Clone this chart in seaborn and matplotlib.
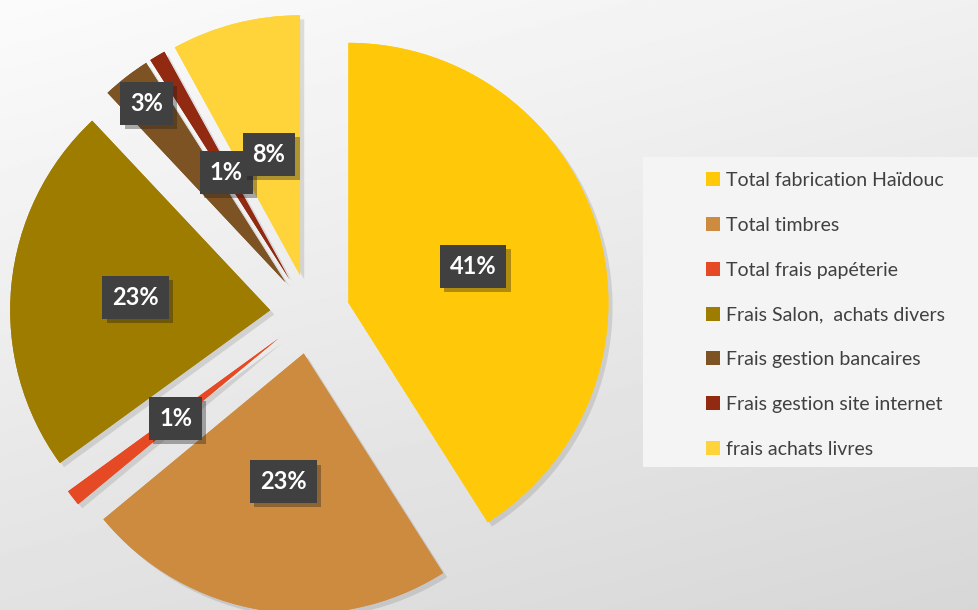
import matplotlib
matplotlib.use('Agg')
import matplotlib.pyplot as plt
import matplotlib.patheffects as pe
from matplotlib.patches import Patch, Rectangle
import numpy as np
import seaborn as sns

categories = ['Total fabrication Haïdouc', 'Total timbres', 'Total frais papéterie',
              'Frais Salon,  achats divers', 'Frais gestion bancaires',
              'Frais gestion site internet', 'frais achats livres']
shares = [41, 23, 1, 23, 3, 1, 8]
colors = ['#FFC90A', '#CD8B40', '#E64A24', '#9E7C00', '#7E5323', '#922911', '#FFD43A']
label_dist = [0.5, 0.5, 0.5, 0.52, 0.87, 0.48, 0.48]

sns.set_theme(style='white')
plt.rcParams['font.family'] = ['Lato', 'DejaVu Sans']

W, H = 979, 610
fig = plt.figure(figsize=(W / 100, H / 100), dpi=100)

# background gradient, white top-left to grey bottom-right
bg = fig.add_axes([0, 0, 1, 1], zorder=0)
xx, yy = np.meshgrid(np.linspace(0, 1, 300), np.linspace(0, 1, 300))
grad = 251 - 36 * (0.3 * xx + 0.7 * yy)
bg.imshow(grad, cmap='gray', vmin=0, vmax=255, extent=[0, 1, 0, 1], aspect='auto')
bg.axis('off')

# legend panel
fig.patches.append(Rectangle((643 / W, (H - 467) / H), (W - 643) / W, 310 / H,
                             transform=fig.transFigure, facecolor='#f4f4f4',
                             edgecolor='none', zorder=1))

ax = fig.add_axes([0, 0, 1, 1], zorder=2)
ax.patch.set_alpha(0)
wedges, _ = ax.pie(shares, colors=colors, startangle=90, counterclock=False,
                   explode=[40] * len(shares), radius=260, center=(310, 296),
                   wedgeprops=dict(linewidth=0))
for w in wedges:
    w.set_path_effects([pe.withSimplePatchShadow(offset=(3, -3), shadow_rgbFace='k', alpha=0.12),
                        pe.Normal()])
ax.set_xlim(0, W)
ax.set_ylim(0, H)
ax.set_aspect('auto')
ax.axis('off')

for w, s, d in zip(wedges, shares, label_dist):
    mid = np.deg2rad((w.theta1 + w.theta2) / 2)
    cx, cy = w.center
    t = ax.text(cx + d * w.r * np.cos(mid), cy + d * w.r * np.sin(mid), f'{s}%',
                ha='center', va='center', color='white', fontsize=17, fontweight='bold',
                bbox=dict(boxstyle='square,pad=0.42', fc='#404040', ec='none', lw=0))
    t.get_bbox_patch().set_path_effects([
        pe.withSimplePatchShadow(offset=(3, -3), shadow_rgbFace='k', alpha=0.35), pe.Normal()])

handles = [Patch(facecolor=c, edgecolor='none') for c in colors]
fig.legend(handles, categories, loc='upper left', bbox_to_anchor=(706 / W, 1 - 172 / H),
           frameon=False, fontsize=14, labelcolor='#404040', handlelength=0.72,
           handleheight=0.72, handletextpad=0.3, labelspacing=1.43,
           borderaxespad=0, borderpad=0)

fig.savefig('out.png', dpi=100)
